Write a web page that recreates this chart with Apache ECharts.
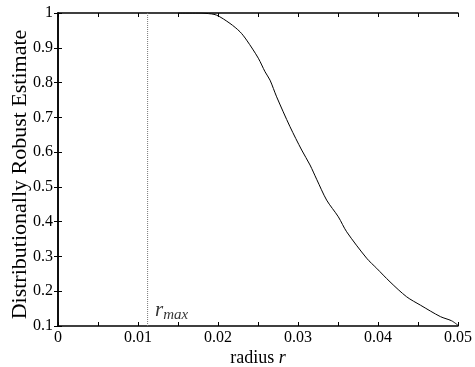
<!DOCTYPE html>
<html><head><meta charset="utf-8">
<script src="https://cdn.jsdelivr.net/npm/echarts@6/dist/echarts.min.js"></script>
<style>html,body{margin:0;padding:0;background:#fff}#c{width:475px;height:367px}</style>
</head><body><div id="c"></div>
<script>
const radius = [0.015,0.0175,0.0185,0.0198,0.0215,0.02275,0.02358,0.02504,0.02588,0.0265,0.02733,0.029,0.03046,0.0315,0.03233,0.03358,0.03504,0.03608,0.03858,0.03983,0.0415,0.04358,0.0453,0.0478,0.0492,0.05];
const estimate = [1.0,1.0,0.999,0.994,0.970,0.946,0.922,0.870,0.831,0.807,0.759,0.673,0.606,0.563,0.522,0.462,0.414,0.371,0.295,0.266,0.227,0.184,0.160,0.127,0.115,0.102];
const rMax = 0.0112;
const rMaxLabelY = 0.145;
const xTicks = [0,0.01,0.02,0.03,0.04,0.05];
const yTicks = [0.1,0.2,0.3,0.4,0.5,0.6,0.7,0.8,0.9,1];

const font = 'Liberation Serif';
const chart = echarts.init(document.getElementById('c'));
const axisLine = {show:true, lineStyle:{color:'#000', width:1.5}};
const tick = {show:true, inside:true, length:4, lineStyle:{color:'#000', width:1}};
const minor = {show:true, splitNumber:2, length:4, lineStyle:{color:'#000', width:1}};
chart.setOption({
  animation:false,
  grid:{left:58, right:17, top:13, bottom:41, containLabel:false, outerBoundsMode:'none'},
  xAxis:[{
    type:'value', min:0, max:0.05, interval:0.01, position:'bottom',
    axisLine, axisTick:tick, minorTick:minor, splitLine:{show:false},
    axisLabel:{fontFamily:font, fontSize:16, color:'#000', margin:4,
      formatter:v=>{const t=xTicks.find(x=>Math.abs(x-v)<1e-9);return t===undefined?'':String(t);}},
    name:'radius {i|r}', nameLocation:'middle', nameGap:23, nameMoveOverlap:false,
    nameTextStyle:{fontFamily:font, fontSize:18, color:'#000', verticalAlign:'top', rich:{i:{fontFamily:font,fontSize:18,fontStyle:'italic',color:'#000'}}}
  },{
    type:'value', min:0, max:0.05, interval:0.01, position:'top',
    axisLine, axisTick:tick, minorTick:minor, axisLabel:{show:false}, splitLine:{show:false}
  }],
  yAxis:[{
    type:'value', min:0.1, max:1, interval:0.1, position:'left',
    axisLine, axisTick:tick, splitLine:{show:false},
    axisLabel:{fontFamily:font, fontSize:16, color:'#000', margin:5,
      formatter:v=>{const t=yTicks.find(x=>Math.abs(x-v)<1e-9);return t===undefined?'':String(t);}},
    name:'Distributionally Robust Estimate', nameLocation:'middle', nameGap:27, nameMoveOverlap:false,
    nameTextStyle:{fontFamily:font, fontSize:22, color:'#000', padding:[0,10,0,0]}
  },{
    type:'value', min:0.1, max:1, interval:0.1, position:'right',
    axisLine, axisTick:tick, axisLabel:{show:false}, splitLine:{show:false}
  }],
  series:[{
    type:'line', data:radius.map((r,i)=>[r,estimate[i]]), showSymbol:false, symbol:'none',
    lineStyle:{color:'#000', width:1}, smooth:0.3, z:1
  },{
    type:'line', data:[[rMax,0.1],[rMax,1]], symbol:'none',
    lineStyle:{color:'#777', width:1, type:'dotted'}, z:1
  },{
    type:'scatter', data:[[rMax,rMaxLabelY]], symbolSize:1, itemStyle:{color:'rgba(0,0,0,0)'},
    label:{show:true, position:'right', distance:7, formatter:'{r|r}{s|max}',
      rich:{r:{fontFamily:font,fontSize:21,fontStyle:'italic',color:'#000'},
            s:{fontFamily:font,fontSize:15,fontStyle:'italic',color:'#000',padding:[10,0,0,0]}}}
  }]
});
</script></body></html>
